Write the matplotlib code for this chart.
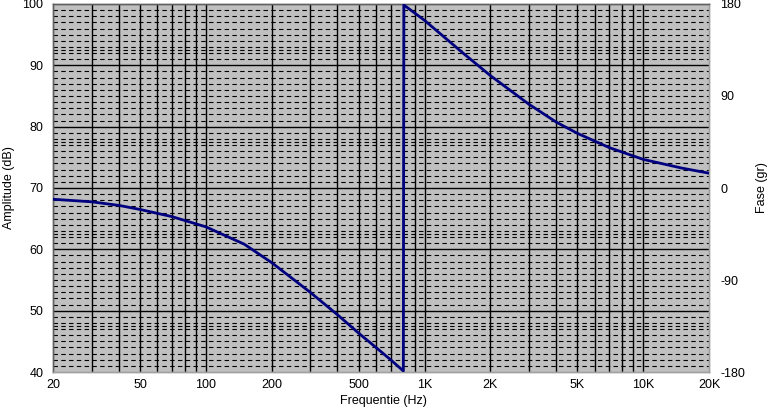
import matplotlib
matplotlib.use("Agg")
import matplotlib.pyplot as plt
from matplotlib.ticker import FixedLocator, NullFormatter

# Data (phase curve, degrees, on right axis)
freq_low = [20, 30, 40, 50, 70, 100, 150, 200, 300, 400, 500, 600, 700, 800]
phase_low = [-11, -13.5, -17, -21, -28, -38, -55, -73, -102, -124, -142, -156, -168, -179]
freq_high = [800, 805, 1000, 1500, 2000, 3000, 4000, 5000, 7000, 10000, 15000, 20000]
phase_high = [-179, 179, 164, 132, 110, 82, 64.5, 53.5, 39.5, 28, 19.5, 14.5]

freq_curve = freq_low + freq_high
phase_curve = phase_low + phase_high

xtick_vals = [20, 50, 100, 200, 500, 1000, 2000, 5000, 10000, 20000]
xtick_labels = ["20", "50", "100", "200", "500", "1K", "2K", "5K", "10K", "20K"]
xgrid_vals = [30, 40, 50, 60, 70, 80, 90, 100, 200, 300, 400, 500, 600, 700, 800, 900,
              1000, 2000, 3000, 4000, 5000, 6000, 7000, 8000, 9000, 10000]
amp_ticks = [40, 50, 60, 70, 80, 90, 100]
amp_minor = [v for v in range(41, 100) if v % 10 != 0]
phase_ticks = [-180, -90, 0, 90, 180]
phase_minor = [-135, -45, 45, 135]

plt.rcParams['font.family'] = ['Liberation Sans', 'DejaVu Sans']
plt.rcParams['axes.unicode_minus'] = False
FS = 9
fig = plt.figure(figsize=(7.7, 4.11), dpi=100)
fig.patch.set_facecolor('white')
ax = fig.add_axes([53/770, 39/411, (709-53)/770, (372-4)/411])
ax.set_facecolor('#c0c0c0')
ax.set_xscale('log')
ax.set_xlim(20, 20000)
ax.set_ylim(40, 100)

ax.xaxis.set_major_locator(FixedLocator(xtick_vals))
ax.set_xticklabels(xtick_labels)
ax.xaxis.set_minor_locator(FixedLocator([]))
ax.xaxis.set_minor_formatter(NullFormatter())
ax.set_yticks(amp_ticks)

# grid lines
for v in amp_minor:
    ax.axhline(v, color='black', lw=0.8, ls=(0, (4, 3)), zorder=1)
for v in phase_minor:
    ax.axhline(40 + (v + 180) / 6.0, color='black', lw=0.8, ls=(0, (4, 3)), zorder=1)
for v in amp_ticks[1:-1]:
    ax.axhline(v, color='black', lw=1.0, zorder=2)
for v in xgrid_vals:
    ax.axvline(v, color='black', lw=1.0, zorder=2)

ax.tick_params(axis='both', which='both', length=0, labelsize=FS)
ax.tick_params(axis='y', pad=7)
ax.tick_params(axis='x', pad=5)

ax2 = ax.twinx()
ax2.set_ylim(-180, 180)
ax2.set_yticks(phase_ticks)
ax2.tick_params(axis='y', length=0, labelsize=FS, pad=8)
ax2.plot(freq_curve, phase_curve, color='#000080', lw=2.0, zorder=5)
ax2.set_xlim(20, 20000)

fig.text(9/770, 1 - 188/411, "Amplitude (dB)", rotation=90, ha='center', va='center', fontsize=FS)
fig.text(762/770, 1 - 188/411, "Fase (gr)", rotation=90, ha='center', va='center', fontsize=FS)
fig.text(383/770, 1 - 401/411, "Frequentie (Hz)", ha='center', va='center', fontsize=FS)

for a in (ax, ax2):
    for s in ('top', 'left'):
        a.spines[s].set_color('#606060')
    for s in ('bottom', 'right'):
        a.spines[s].set_color('#a0a0a0')
    for s in a.spines.values():
        s.set_linewidth(1.0)

fig.savefig("out.png", dpi=100)
